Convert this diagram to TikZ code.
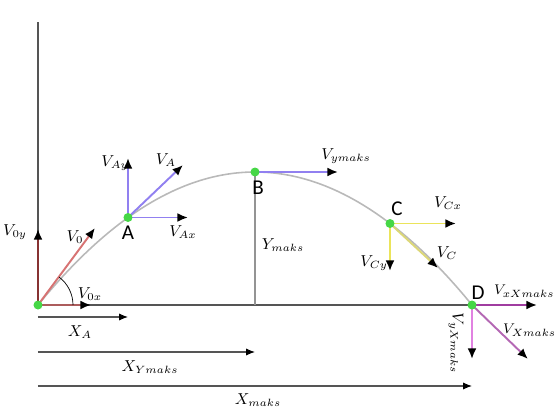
\documentclass[tikz,border=0pt]{standalone}
\usepackage{amsmath}
\usepackage{xcolor}
\usepackage{fontspec}
\newfontfamily\ptfont{Carlito}
\usepackage{tikz}
\usetikzlibrary{positioning,arrows.meta}

\definecolor{axisgray}{RGB}{85,85,85}
\definecolor{pathgray}{RGB}{185,185,185}
\definecolor{vdarkred}{RGB}{135,50,50}
\definecolor{vred}{RGB}{215,115,115}
\definecolor{vblue}{RGB}{145,128,240}
\definecolor{vyellow}{RGB}{235,228,90}
\definecolor{vpink}{RGB}{225,130,225}
\definecolor{vmagenta}{RGB}{160,60,160}
\definecolor{dotgreen}{RGB}{70,215,70}

\tikzset{
  vec/.style={line width=1.1pt, -{Latex[color=black,length=6pt,width=5pt]}},
  dist/.style={draw=axisgray, line width=0.6pt, -{Latex[color=black,length=5pt,width=4pt]}},
  lbl/.style={font=\small},
  pt/.style={font=\ptfont\large}
}

\begin{document}
\begin{tikzpicture}[x=0.02cm,y=-0.02cm]
\useasboundingbox (0,0) rectangle (556,413);

\coordinate (O) at (38,305);
\coordinate (A) at (128,217.5);
\coordinate (B) at (255,172);
\coordinate (C) at (390,223.5);
\coordinate (D) at (472,305);
\coordinate (top) at (38,22);

% trajectory
\draw[pathgray, line width=0.9pt, domain=38:472, smooth, samples=60, variable=\x]
  plot ({\x},{172+28.24*((\x-255)/100)^2});

% axes
\draw[axisgray, line width=1.6pt] (O) -- (top);
\draw[axisgray, line width=1.6pt] (O) -- (D);
\draw[pathgray!80!black, line width=0.7pt] (B) -- (B |- O);

% distances
\draw[dist] (O |- 0,317) -- (A |- 0,317);
\draw[dist] (O |- 0,352) -- (B |- 0,352);
\draw[dist] (O |- 0,386) -- (D |- 0,386);

% launch
\coordinate (v0y) at (38,229);
\coordinate (v0) at (95,228);
\coordinate (v0x) at (91,305);
\draw[vec, vdarkred] (O) -- (v0y);
\draw[vec, vred] (O) -- (v0);
\draw[vec, vred!80!black] (O) -- (v0x);
\draw[black, line width=0.4pt] (O) ++(35,0) arc (0:-53:35);

% point A
\coordinate (vAy) at (128,158);
\coordinate (vA) at (183,165);
\coordinate (vAx) at (188,217.5);
\draw[vec, vblue] (A) -- (vAy);
\draw[vec, vblue] (A) -- (vA);
\draw[vec, vblue] (A) -- (vAx);

% point B
\coordinate (vBx) at (338,172);
\draw[vec, vblue] (B) -- (vBx);

% point C
\coordinate (vCx) at (456,223.5);
\coordinate (vCy) at (390,271);
\coordinate (vC) at (438,268);
\draw[vec, vyellow] (C) -- (vCx);
\draw[vec, vyellow] (C) -- (vCy);
\draw[vec, vyellow!70!pathgray] (C) -- (vC);

% point D
\coordinate (vDx) at (537,305);
\coordinate (vDy) at (472,359);
\coordinate (vD) at (528,359);
\draw[vec, vmagenta] (D) -- (vDx);
\draw[vec, vpink] (D) -- (vDy);
\draw[vec, vpink!80!black] (D) -- (vD);

\foreach \p in {O,A,B,C,D}
  \fill[dotgreen] (\p) circle (4.5);

% labels
\node[pt](la) at (128,233) {A};
\node[pt](lb) at (258,188) {B};
\node[pt](lc) at (397,209) {C};
\node[pt](ld) at (478,293) {D};

\node[lbl](l0y) at (15,232) {$V_{0y}$};
\node[lbl](l0) at (75,237) {$V_{0}$};
\node[lbl](l0x) at (90,294) {$V_{0x}$};
\node[lbl](lAy) at (115,163) {$V_{Ay}$};
\node[lbl](lA) at (166,160) {$V_{A}$};
\node[lbl](lAx) at (183,232) {$V_{Ax}$};
\node[lbl](lBx) at (346,156) {$V_{ymaks}$};
\node[lbl](lYm) at (283,245) {$Y_{maks}$};
\node[lbl](lCx) at (448,203) {$V_{Cx}$};
\node[lbl](lCy) at (374,263) {$V_{Cy}$};
\node[lbl](lC) at (447,253) {$V_{C}$};
\node[lbl, font=\footnotesize, anchor=west, inner sep=1pt](lDx) at (492,291) {$V_{xXmaks}$};
\node[lbl, font=\footnotesize, anchor=west, inner sep=1pt](lD) at (501,330) {$V_{Xmaks}$};
\node[lbl, rotate=-90](lDy) at (456,343) {$V_{yXmaks}$};
\node[lbl](lxa) at (80,332) {$X_{A}$};
\node[lbl](lxy) at (150,367) {$X_{Ymaks}$};
\node[lbl](lxm) at (258,400) {$X_{maks}$};

\end{tikzpicture}
\end{document}
